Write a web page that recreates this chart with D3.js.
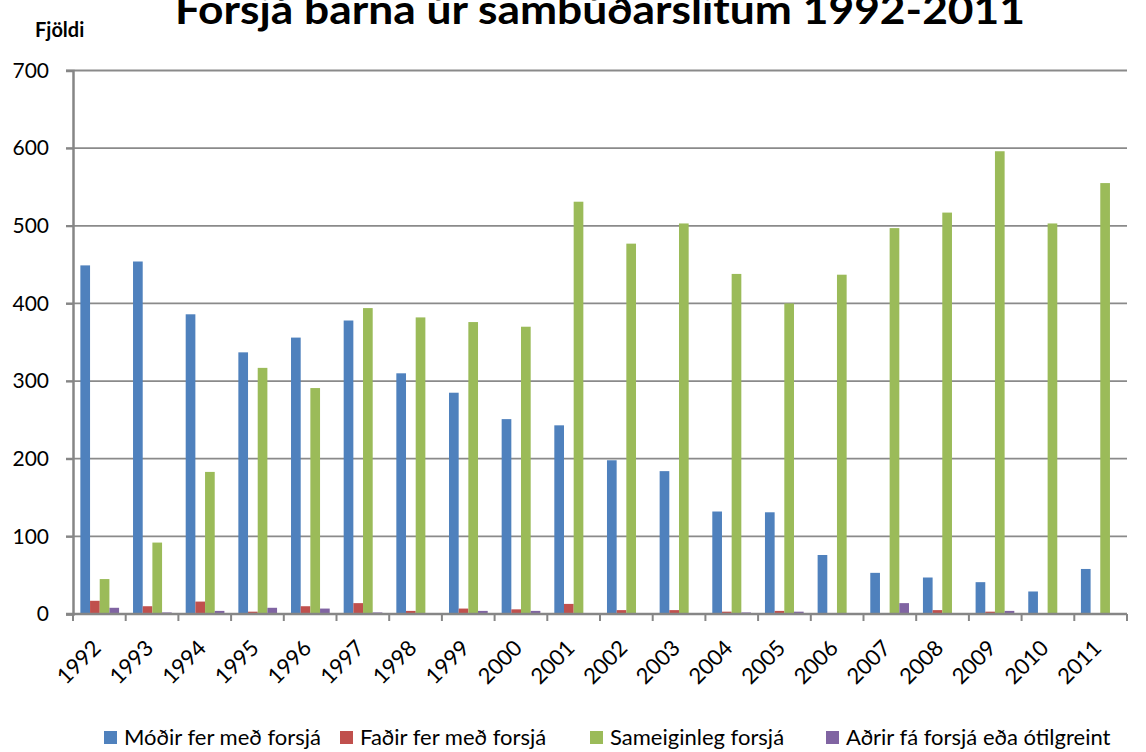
<!DOCTYPE html>
<html>
<head>
<meta charset="utf-8">
<title>Forsjá barna</title>
<script src="https://d3js.org/d3.v7.min.js"></script>
<style>
  body { margin: 0; background: #fff; }
  text { font-family: Lato, "Liberation Sans", sans-serif; fill: #000; }
</style>
</head>
<body>
<div id="chart"></div>
<script>
// data
var years = ["1992","1993","1994","1995","1996","1997","1998","1999","2000","2001",
             "2002","2003","2004","2005","2006","2007","2008","2009","2010","2011"];
var modir = [449, 454, 386, 337, 356, 378, 310, 285, 251, 243, 198, 184, 132, 131, 76, 53, 47, 41, 29, 58];
var fadir = [17, 10, 16, 3, 10, 14, 4, 7, 6, 13, 5, 5, 3, 4, 1, 0, 5, 3, 0, 0];
var sameig = [45, 92, 183, 317, 291, 394, 382, 376, 370, 531, 477, 503, 438, 400, 437, 497, 517, 596, 503, 555];
var adrir = [8, 2, 4, 8, 7, 2, 1, 4, 4, 0, 0, 0, 2, 3, 0, 14, 0, 4, 0, 0];
var seriesNames = ["Móðir fer með forsjá", "Faðir fer með forsjá", "Sameiginleg forsjá", "Aðrir fá forsjá eða ótilgreint"];
var colors = ["#4F81BD", "#C0504D", "#9BBB59", "#8064A2"];
var yTicks = [0, 100, 200, 300, 400, 500, 600, 700];

var width = 1146, height = 752;
var plotLeft = 73, plotRight = 1127, plotTop = 70.5, plotBottom = 614;

var svg = d3.select("#chart").append("svg")
    .attr("width", width)
    .attr("height", height);

var series = [modir, fadir, sameig, adrir];
var data = years.map(function(y, i) {
  return { year: y, values: series.map(function(s, k) { return { k: k, v: s[i] }; }) };
});

var x0 = d3.scaleBand().domain(years).range([plotLeft, plotRight]).paddingInner(0.265).paddingOuter(0.14);
var x1 = d3.scaleBand().domain([0, 1, 2, 3]).range([0, x0.bandwidth()]);
var y = d3.scaleLinear().domain([0, 700]).range([plotBottom, plotTop]);

// gridlines
svg.append("g").selectAll("line")
  .data(yTicks.filter(function(t) { return t > 0; }))
  .enter().append("line")
    .attr("x1", plotLeft - 7).attr("x2", plotRight)
    .attr("y1", function(d) { return y(d); })
    .attr("y2", function(d) { return y(d); })
    .attr("stroke", "#8a8a8a")
    .attr("stroke-width", 1.8);

// bars
svg.append("g").selectAll("g")
  .data(data)
  .enter().append("g")
    .attr("transform", function(d) { return "translate(" + x0(d.year) + ",0)"; })
  .selectAll("rect")
  .data(function(d) { return d.values; })
  .enter().append("rect")
    .attr("x", function(d) { return x1(d.k); })
    .attr("width", x1.bandwidth())
    .attr("y", function(d) { return y(d.v); })
    .attr("height", function(d) { return plotBottom - y(d.v); })
    .attr("fill", function(d) { return colors[d.k]; });

// y axis
var yAxis = svg.append("g")
    .attr("transform", "translate(" + plotLeft + ",0)")
    .call(d3.axisLeft(y).tickValues(yTicks).tickSize(7).tickPadding(17));
yAxis.select(".domain").attr("stroke", "#868686").attr("stroke-width", 2.5);
yAxis.selectAll(".tick line").attr("stroke", "#868686").attr("stroke-width", 2);
yAxis.selectAll(".tick text")
    .style("font-size", "21px")
    .attr("font-family", "Lato");

// x axis
var bounds = d3.range(years.length + 1).map(function(i) {
  return plotLeft + i * (plotRight - plotLeft) / years.length;
});
svg.append("line")
    .attr("x1", plotLeft - 7).attr("x2", plotRight)
    .attr("y1", plotBottom).attr("y2", plotBottom)
    .attr("stroke", "#868686").attr("stroke-width", 2.5);
svg.append("g").selectAll("line")
  .data(bounds)
  .enter().append("line")
    .attr("x1", function(d) { return d; }).attr("x2", function(d) { return d; })
    .attr("y1", plotBottom).attr("y2", plotBottom + 7)
    .attr("stroke", "#868686").attr("stroke-width", 2);

svg.append("g").selectAll("text")
  .data(years)
  .enter().append("text")
    .attr("transform", function(d) {
      var cx = x0(d) + x0.bandwidth() / 2;
      return "translate(" + (cx - 3) + "," + (plotBottom + 30) + ") rotate(-45)";
    })
    .attr("text-anchor", "end")
    .attr("dy", "0.35em")
    .style("font-size", "22px")
    .text(function(d) { return d; });

// title and axis label
svg.append("text")
    .attr("x", 600).attr("y", 24)
    .attr("text-anchor", "middle")
    .attr("textLength", 850)
    .attr("lengthAdjust", "spacingAndGlyphs")
    .style("font-size", "40px")
    .style("font-weight", "bold")
    .text("Forsjá barna úr sambúðarslitum 1992-2011");

svg.append("text")
    .attr("x", 35).attr("y", 37)
    .style("font-size", "20px")
    .style("font-weight", "bold")
    .text("Fjöldi");

// legend
var legendX = [104, 340, 590, 826];
var legend = svg.append("g").selectAll("g")
  .data(seriesNames)
  .enter().append("g")
    .attr("transform", function(d, i) { return "translate(" + legendX[i] + ",737)"; });
legend.append("rect")
    .attr("x", 0).attr("y", -6)
    .attr("width", 13).attr("height", 13)
    .attr("fill", function(d, i) { return colors[i]; });
legend.append("text")
    .attr("x", 20).attr("y", 0)
    .attr("dy", "0.35em")
    .style("font-size", "22px")
    .text(function(d) { return d; });
</script>
</body>
</html>
